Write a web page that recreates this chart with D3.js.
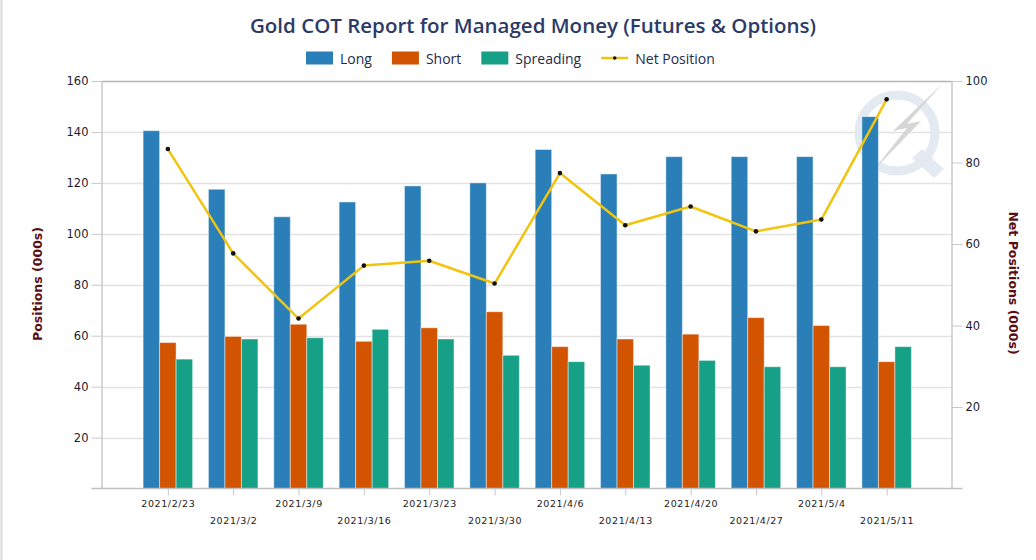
<!DOCTYPE html>
<html>
<head>
<meta charset="utf-8">
<script src="https://cdn.jsdelivr.net/npm/d3@7"></script>
<style>
  html, body { margin: 0; padding: 0; background: #fff; }
  svg { display: block; }
</style>
</head>
<body>
<div id="chart"></div>
<script>
// weekly report dates
var dates = ["2021/2/23", "2021/3/2", "2021/3/9", "2021/3/16", "2021/3/23", "2021/3/30",
    "2021/4/6", "2021/4/13", "2021/4/20", "2021/4/27", "2021/5/4", "2021/5/11"];

// positions in thousands of contracts
var longPos = [140.5, 117.5, 106.7, 112.5, 118.8, 120.0, 133.1, 123.5, 130.3, 130.3, 130.3, 146.0];
var shortPos = [57.3, 59.7, 64.5, 57.8, 63.1, 69.4, 55.7, 58.7, 60.6, 67.1, 64.0, 49.8];
var spreadPos = [50.8, 58.7, 59.2, 62.5, 58.7, 52.3, 49.8, 48.4, 50.3, 47.8, 47.8, 55.7];
var netPos = [83.3, 57.7, 41.7, 54.7, 55.9, 50.3, 77.4, 64.6, 69.2, 63.1, 66.0, 95.5];

var seriesNames = ["Long", "Short", "Spreading"];
var leftTicks = [20, 40, 60, 80, 100, 120, 140, 160];
var rightTicks = [20, 40, 60, 80, 100];

var colors = {
    Long: "#2a7fb8",
    Short: "#d35400",
    Spreading: "#16a085",
    Net: "#f1c40f"
};

var W = 1036, H = 560;
var plot = { left: 101.5, right: 951.5, top: 81, bottom: 488.5 };

/**
 * Builds the svg root with the thin frame line on the left edge
 */
function appendSVG(id) {
    var svg = d3.select("#" + id)
        .append("svg")
        .attr("width", W)
        .attr("height", H);

    svg.append("rect")
        .attr("width", W)
        .attr("height", H)
        .attr("fill", "#fff");

    svg.append("line")
        .attr("x1", 1.5).attr("x2", 1.5)
        .attr("y1", 0).attr("y2", H)
        .attr("stroke", "#d9d9d9")
        .attr("stroke-width", 2);

    return svg;
}

function addTitle(svg, title) {
    svg.append("text")
        .attr("x", 533)
        .attr("y", 33)
        .attr("text-anchor", "middle")
        .style("font-family", "'Open Sans', 'DejaVu Sans', sans-serif")
        .style("font-size", "20.5px")
        .style("font-weight", 600)
        .style("fill", "#2b3a67")
        .text(title);
}

function addLegend(svg) {
    var items = seriesNames.concat(["Net Position"]);
    var x = 306;
    var g = svg.append("g").attr("class", "legend");

    items.forEach(function (name) {
        if (name === "Net Position") {
            g.append("line")
                .attr("x1", x).attr("x2", x + 27)
                .attr("y1", 58).attr("y2", 58)
                .attr("stroke", colors.Net)
                .attr("stroke-width", 2.5);
            g.append("circle")
                .attr("cx", x + 13.5).attr("cy", 58)
                .attr("r", 1.8)
                .attr("fill", "#111");
        } else {
            g.append("rect")
                .attr("x", x).attr("y", 51.5)
                .attr("width", 27).attr("height", 13)
                .attr("fill", colors[name]);
        }
        var t = g.append("text")
            .attr("x", x + 34)
            .attr("y", 63.5)
            .style("font-family", "'Open Sans', 'DejaVu Sans', sans-serif")
            .style("font-size", "14px")
            .style("fill", "#1e2a4a")
            .text(name);
        x += 34 + t.node().getComputedTextLength() + 20;
    });
}

function drawChart() {
    var svg = appendSVG("chart");

    var x = d3.scalePoint()
        .domain(dates)
        .range([plot.left + 1, plot.right + 0.5])
        .padding(1);

    var xs = d3.scaleBand()
        .domain(seriesNames)
        .range([-24.75, 24.75]);

    var yL = d3.scaleLinear().domain([0, 160]).range([plot.bottom, plot.top]);
    var yR = d3.scaleLinear().domain([0, 100]).range([plot.bottom, plot.top]);

    // horizontal grid
    svg.append("g")
        .selectAll("line")
        .data(leftTicks)
        .join("line")
        .attr("x1", plot.left).attr("x2", plot.right)
        .attr("y1", function (d) { return Math.round(yL(d)) + 0.5; })
        .attr("y2", function (d) { return Math.round(yL(d)) + 0.5; })
        .attr("stroke", function (d) { return d === 160 ? "#b5b5b5" : "#e2e2e2"; })
        .attr("stroke-width", 1.5);

    // faint logo watermark
    var wm = svg.append("g");
    wm.append("circle")
        .attr("cx", 897).attr("cy", 133).attr("r", 38)
        .attr("fill", "none")
        .attr("stroke", "#e3eaf1")
        .attr("stroke-width", 9);
    wm.append("path")
        .attr("d", "M912,158 L934,178 L944,169 L922,149 Z")
        .attr("fill", "#e3eaf1");
    wm.append("path")
        .attr("d", "M942,84 L893,131 L907,128 L872,172 L921,121 L907,124 Z")
        .attr("fill", "#d6d6d6");

    // grouped bars
    var rows = dates.map(function (d, i) {
        return { date: d, Long: longPos[i], Short: shortPos[i], Spreading: spreadPos[i] };
    });

    var groups = svg.append("g")
        .selectAll("g")
        .data(rows)
        .join("g")
        .attr("transform", function (d) { return "translate(" + x(d.date) + ",0)"; });

    groups.selectAll("rect")
        .data(function (d) { return seriesNames.map(function (k) { return { key: k, value: d[k] }; }); })
        .join("rect")
        .attr("x", function (d) { return xs(d.key); })
        .attr("width", xs.bandwidth())
        .attr("y", function (d) { return yL(d.value); })
        .attr("height", function (d) { return yL(0) - yL(d.value); })
        .attr("fill", function (d) { return colors[d.key]; })
        .attr("stroke", "#fff")
        .attr("stroke-opacity", 0.45)
        .attr("stroke-width", 1);

    // left axis
    var left = svg.append("g")
        .attr("transform", "translate(" + plot.left + ",0)")
        .call(d3.axisLeft(yL).tickValues(leftTicks).tickSize(10).tickPadding(3).tickSizeOuter(0));
    left.select(".domain").attr("stroke", "#c8c8c8").attr("stroke-width", 1.5);
    left.selectAll(".tick line").attr("stroke", "#c8c8c8");
    left.selectAll(".tick text")
        .style("font-family", "'DejaVu Sans', sans-serif")
        .style("font-size", "11.5px")
        .style("fill", "#1c1c30");

    // right axis
    var right = svg.append("g")
        .attr("transform", "translate(" + plot.right + ",0)")
        .call(d3.axisRight(yR).tickValues(rightTicks).tickSize(11).tickPadding(3).tickSizeOuter(0));
    right.select(".domain").attr("stroke", "#c8c8c8").attr("stroke-width", 1.5);
    right.selectAll(".tick line").attr("stroke", "#c8c8c8");
    right.selectAll(".tick text")
        .style("font-family", "'DejaVu Sans', sans-serif")
        .style("font-size", "11.5px")
        .style("fill", "#1c1c30");

    // bottom axis, labels staggered on two rows
    var bottom = svg.append("g")
        .attr("transform", "translate(0," + plot.bottom + ")")
        .call(d3.axisBottom(x).tickSize(7).tickSizeOuter(0));
    bottom.select(".domain")
        .attr("d", "M" + (plot.left - 10) + ",0H" + (plot.right + 11))
        .attr("stroke", "#c0c0c0").attr("stroke-width", 1.5);
    bottom.selectAll(".tick line").attr("stroke", "#c8c8c8");
    bottom.selectAll(".tick text")
        .attr("y", function (d, i) { return i % 2 === 0 ? 12 : 29; })
        .style("font-family", "'DejaVu Sans', sans-serif")
        .style("font-size", "9.5px")
        .style("letter-spacing", "0.6px")
        .style("fill", "#222");

    // net position line
    var line = d3.line()
        .x(function (d, i) { return x(dates[i]); })
        .y(function (d) { return yR(d); });

    svg.append("path")
        .datum(netPos)
        .attr("d", line)
        .attr("fill", "none")
        .attr("stroke", colors.Net)
        .attr("stroke-width", 2.5)
        .attr("stroke-linejoin", "round");

    svg.append("g")
        .selectAll("circle")
        .data(netPos)
        .join("circle")
        .attr("cx", function (d, i) { return x(dates[i]); })
        .attr("cy", function (d) { return yR(d); })
        .attr("r", 2.3)
        .attr("fill", "#111");

    // axis titles
    svg.append("text")
        .attr("transform", "translate(42,284) rotate(-90)")
        .attr("text-anchor", "middle")
        .style("font-family", "'DejaVu Sans', sans-serif")
        .style("font-size", "12.5px")
        .style("font-weight", "bold")
        .style("fill", "#5a0e12")
        .text("Positions (000s)");

    svg.append("text")
        .attr("transform", "translate(1009,283) rotate(90)")
        .attr("text-anchor", "middle")
        .style("font-family", "'DejaVu Sans', sans-serif")
        .style("font-size", "12.5px")
        .style("font-weight", "bold")
        .style("fill", "#5a0e12")
        .text("Net Positions (000s)");

    addTitle(svg, "Gold COT Report for Managed Money (Futures & Options)");
    addLegend(svg);
}

drawChart();
</script>
</body>
</html>
